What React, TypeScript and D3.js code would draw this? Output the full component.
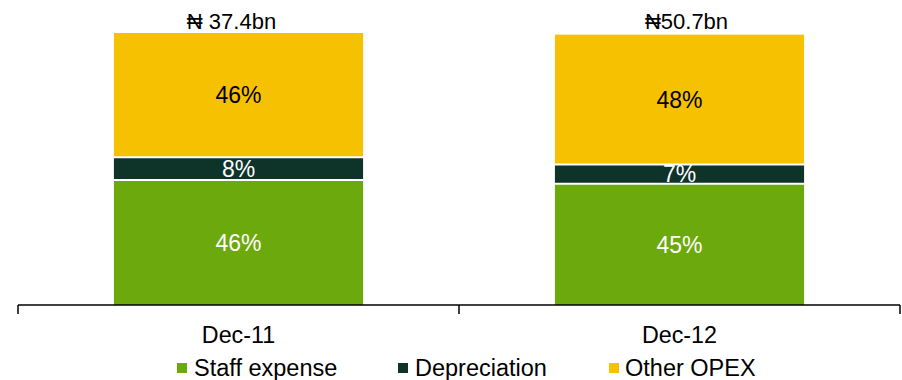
import React from "react";
import * as d3 from "d3";

const categories = ["Dec-11", "Dec-12"];
const seriesNames = ["Staff expense", "Depreciation", "Other OPEX"];
const staffExpense = [46.0, 44.6];
const depreciation = [8.3, 7.1];
const otherOpex = [45.7, 47.7];
const totalLabels = ["₦ 37.4bn", "₦50.7bn"];
const totalLabelShift = [-7, 7];

const colors = ["#6BA90C", "#0E3329", "#F6C100"];
const labelColors = ["#ffffff", "#ffffff", "#000000"];
const FONT = "'Liberation Sans', Arial, sans-serif";

export default function App() {
  const width = 902;
  const height = 380;
  const axisLeft = 18;
  const axisRight = 900;
  const baseY = 305;

  const x = d3
    .scaleBand<string>()
    .domain(categories)
    .range([axisLeft, axisRight])
    .paddingInner(0.435)
    .paddingOuter(0.2175);
  const y = d3.scaleLinear().domain([0, 100]).range([baseY, 33]);

  const rows = categories.map((c, i) => ({
    cat: c,
    "Staff expense": staffExpense[i],
    Depreciation: depreciation[i],
    "Other OPEX": otherOpex[i],
  }));
  const stacked = d3.stack<any>().keys(seriesNames)(rows);

  const step = x.step();
  const tickXs = [axisLeft, ...categories.slice(1).map((c) => (x(c) as number) - step * x.paddingInner() / 2), axisRight];

  const legendItems = [
    { sq: 177, tx: 194 },
    { sq: 398, tx: 415 },
    { sq: 609, tx: 625 },
  ];

  return (
    <svg
      width={width}
      height={height}
      style={{ position: "absolute", left: 0, top: 0, background: "#fff" }}
      fontFamily={FONT}
    >
      {stacked.map((layer, si) => (
        <g key={layer.key}>
          {layer.map((d, ci) => (
            <rect
              key={ci}
              x={x(categories[ci])}
              width={x.bandwidth()}
              y={y(d[1])}
              height={y(d[0]) - y(d[1])}
              fill={colors[si]}
            />
          ))}
        </g>
      ))}
      {stacked.map((layer, si) => (
        <g key={"l" + layer.key}>
          {layer.map((d, ci) => (
            <text
              key={ci}
              x={(x(categories[ci]) as number) + x.bandwidth() / 2}
              y={(y(d[0]) + y(d[1])) / 2}
              dy="0.36em"
              textAnchor="middle"
              fontSize={23}
              fill={labelColors[si]}
            >
              {Math.round(d[1] - d[0])}%
            </text>
          ))}
        </g>
      ))}
      {/* white separators between stacked segments */}
      {stacked.slice(0, -1).map((layer, si) => (
        <g key={"s" + si}>
          {layer.map((d, ci) => (
            <line
              key={ci}
              x1={x(categories[ci])}
              x2={(x(categories[ci]) as number) + x.bandwidth()}
              y1={y(d[1])}
              y2={y(d[1])}
              stroke="#ffffff"
              strokeWidth={2}
            />
          ))}
        </g>
      ))}
      {categories.map((c, ci) => (
        <text
          key={"t" + c}
          x={(x(c) as number) + x.bandwidth() / 2 + totalLabelShift[ci]}
          y={29}
          textAnchor="middle"
          fontSize={22}
          fill="#000"
        >
          {totalLabels[ci]}
        </text>
      ))}
      <line x1={axisLeft} x2={axisRight} y1={baseY} y2={baseY} stroke="#000" strokeWidth={1.5} />
      {tickXs.map((tx, i) => (
        <line key={"k" + i} x1={tx} x2={tx} y1={baseY} y2={314} stroke="#000" strokeWidth={1.5} />
      ))}
      {categories.map((c) => (
        <text
          key={"c" + c}
          x={(x(c) as number) + x.bandwidth() / 2}
          y={342.5}
          textAnchor="middle"
          fontSize={23.3}
          fill="#000"
        >
          {c}
        </text>
      ))}
      {seriesNames.map((s, i) => (
        <g key={"lg" + s}>
          <rect x={legendItems[i].sq} y={363} width={10} height={10} fill={colors[i]} />
          <text x={legendItems[i].tx} y={376} fontSize={23.5} fill="#000">
            {s}
          </text>
        </g>
      ))}
    </svg>
  );
}
